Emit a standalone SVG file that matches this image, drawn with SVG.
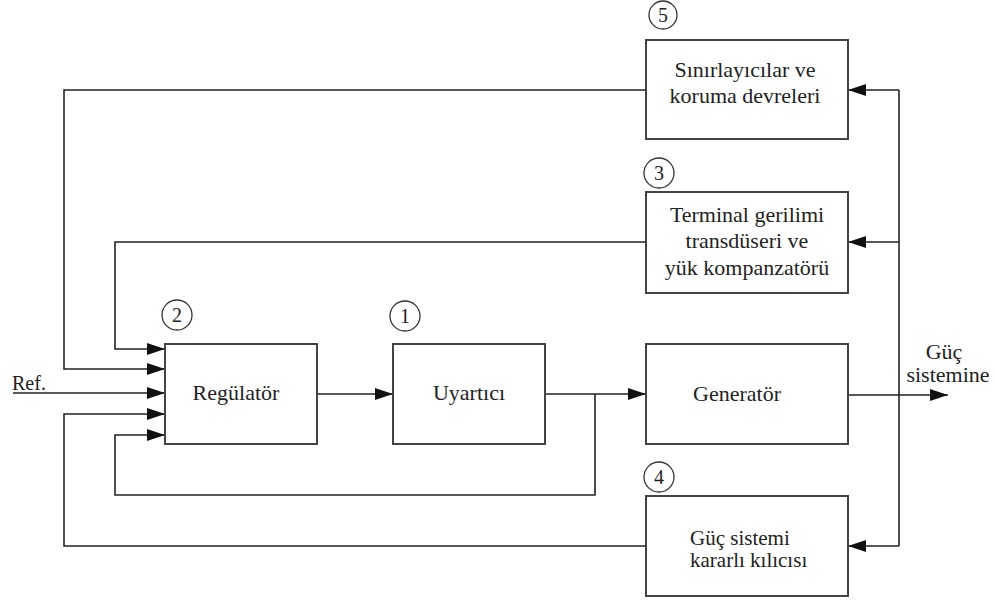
<svg xmlns="http://www.w3.org/2000/svg" width="995" height="600" viewBox="0 0 995 600" font-family="'Liberation Serif', 'DejaVu Serif', serif">
  <defs>
    <marker id="arrow" markerUnits="userSpaceOnUse" markerWidth="18" markerHeight="12" refX="18" refY="6" orient="auto">
      <path d="M0,0 L18,6 L0,12 z" fill="#111"/>
    </marker>
    <style>
      .box { fill: #fff; stroke: #444; stroke-width: 2; }
      .num { fill: none; stroke: #333; stroke-width: 1.3; }
      .wire { fill: none; stroke: #222; stroke-width: 1.6; }
      .arr { marker-end: url(#arrow); }
      text { font-family: 'Liberation Serif', 'DejaVu Serif', serif; fill: #222; }
      .lbl { font-size: 22px; text-anchor: middle; }
      .n { font-size: 20px; text-anchor: middle; }
    </style>
  </defs>
  <rect width="995" height="600" fill="#fff"/>

  <!-- connectors -->
  <g id="connectors">
    <!-- forward path -->
    <path class="wire arr" d="M13,393 H165"/>
    <path class="wire arr" d="M317,394 H393"/>
    <path class="wire arr" d="M545,394 H646"/>
    <path class="wire arr" d="M848,395 H948"/>
    <!-- exciter output back to regulator -->
    <path class="wire arr" d="M595,394 V495 H115 V435 H165"/>
    <!-- generator terminal bus feeding the feedback blocks -->
    <path class="wire" d="M899,90 V546"/>
    <path class="wire arr" d="M899,90 H848"/>
    <path class="wire arr" d="M899,242 H848"/>
    <path class="wire arr" d="M899,546 H848"/>
    <!-- feedback returns into regulator -->
    <path class="wire arr" d="M646,90 H64 V369 H165"/>
    <path class="wire arr" d="M646,242 H115 V349 H165"/>
    <path class="wire arr" d="M646,546 H64 V414 H165"/>
  </g>

  <g id="regulator">
    <rect class="box" x="165" y="344" width="152" height="100"/>
    <text class="lbl" x="236" y="400">Regülatör</text>
    <circle class="num" cx="177" cy="315" r="15"/>
    <text class="n" x="177" y="322">2</text>
  </g>

  <g id="exciter">
    <rect class="box" x="393" y="344" width="152" height="100"/>
    <text class="lbl" x="469" y="400">Uyartıcı</text>
    <circle class="num" cx="405" cy="316" r="15"/>
    <text class="n" x="405" y="323">1</text>
  </g>

  <g id="generator">
    <rect class="box" x="646" y="344" width="202" height="100"/>
    <text class="lbl" x="737" y="401">Generatör</text>
  </g>

  <g id="limiters">
    <rect class="box" x="646" y="40" width="202" height="99"/>
    <text class="lbl" x="745" y="77">Sınırlayıcılar ve</text>
    <text class="lbl" x="745" y="103">koruma devreleri</text>
    <circle class="num" cx="663" cy="15" r="14"/>
    <text class="n" x="663" y="22">5</text>
  </g>

  <g id="transducer">
    <rect class="box" x="646" y="192" width="202" height="101"/>
    <text class="lbl" x="747" y="222">Terminal gerilimi</text>
    <text class="lbl" x="747" y="248">transdüseri ve</text>
    <text class="lbl" x="747" y="275">yük kompanzatörü</text>
    <circle class="num" cx="659" cy="173" r="15"/>
    <text class="n" x="659" y="180">3</text>
  </g>

  <g id="stabilizer">
    <rect class="box" x="646" y="496" width="202" height="100"/>
    <text x="690" y="545" font-size="21">Güç sistemi</text>
    <text x="690" y="567" font-size="21">kararlı kılıcısı</text>
    <circle class="num" cx="659" cy="477" r="15"/>
    <text class="n" x="659" y="484">4</text>
  </g>

  <g id="labels">
    <text x="12" y="390" font-size="20">Ref.</text>
    <text class="lbl" x="944" y="359" font-size="21">Güç</text>
    <text class="lbl" x="948" y="382" font-size="21">sistemine</text>
  </g>
</svg>
